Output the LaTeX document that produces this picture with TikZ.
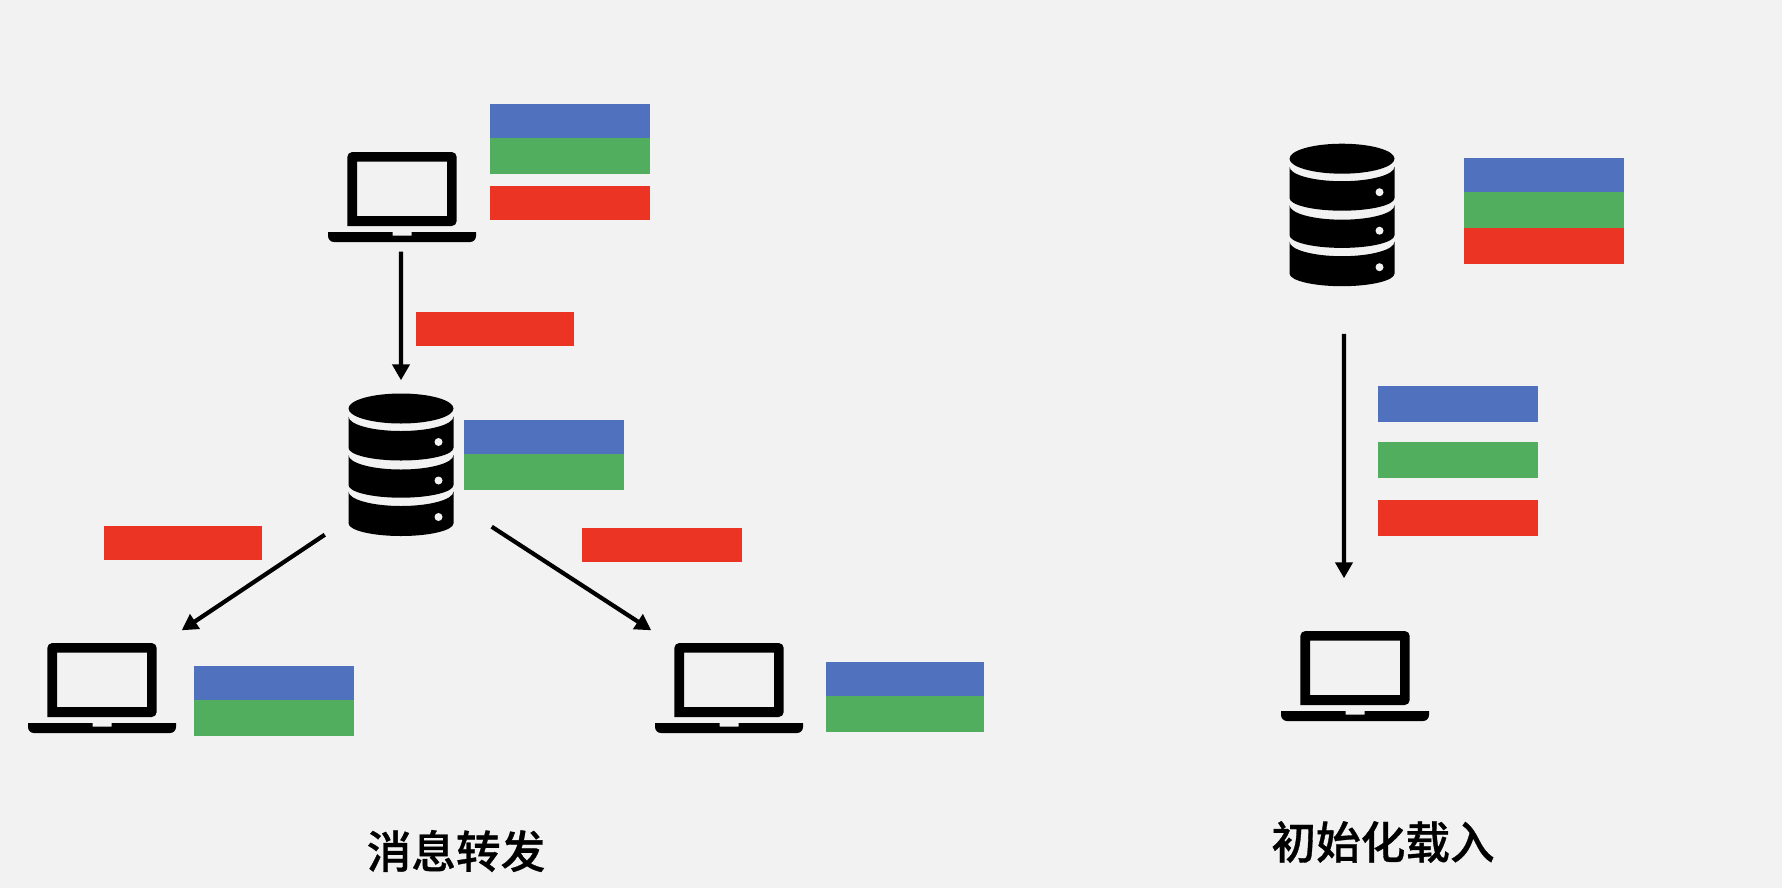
\documentclass[tikz,border=0pt]{standalone}
\usepackage{fontspec}
\newfontfamily\cjk[UprightFont=* Medium, FakeBold=0.7]{Noto Sans CJK SC}
\usetikzlibrary{arrows.meta}
\definecolor{pagebg}{HTML}{F2F2F2}
\definecolor{barblue}{HTML}{5071BD}
\definecolor{bargreen}{HTML}{51AE5E}
\definecolor{barred}{HTML}{EC3424}

\begin{document}
\begin{tikzpicture}[
    laptop/.style={rectangle, minimum width=1.48cm, minimum height=0.9cm, inner sep=0pt,
        path picture={
            \fill[even odd rule, rounded corners=0.05cm] (-0.547,-0.29) -- (-0.547,0.45) -- (0.547,0.45) -- (0.547,-0.29) [sharp corners] -- cycle
                (-0.45,-0.19) [sharp corners] rectangle (0.45,0.353);
            \fill (-0.74,-0.35) -- (-0.095,-0.35) -- (-0.095,-0.385) -- (0.095,-0.385) -- (0.095,-0.35) -- (0.74,-0.35)
                [rounded corners=0.06cm] -- (0.74,-0.45) -- (-0.74,-0.45) [sharp corners] -- cycle;
        }},
    database/.style={rectangle, minimum width=1.05cm, minimum height=1.43cm, inner sep=0pt,
        path picture={
            \fill (0,0.56) ellipse [x radius=0.525, y radius=0.15];
            \foreach \ytop/\ybot in {0.48/0.167, 0.095/-0.205, -0.27/-0.588} {
                \fill (-0.525,\ytop) -- (-0.525,\ybot)
                    arc [start angle=180, end angle=360, x radius=0.525, y radius=0.127]
                    -- (0.525,\ytop)
                    arc [start angle=0, end angle=-180, x radius=0.525, y radius=0.145] -- cycle;
                \fill[pagebg] (0.375,\ytop-0.255) circle (0.04);
            }
        }},
    bar/.style={rectangle, minimum width=1.6cm, inner sep=0pt},
    bluebar/.style={bar, fill=barblue, minimum height=0.34cm},
    greenbar/.style={bar, fill=bargreen, minimum height=0.36cm},
    redbar/.style={bar, fill=barred, minimum height=0.34cm},
    flow/.style={-{Triangle[length=0.16cm, width=0.17cm]}, line width=0.042cm},
    caption/.style={font=\cjk\fontsize{12.7}{15}\selectfont, inner sep=0pt}
]
    \useasboundingbox[fill=pagebg] (0,0) rectangle (17.82,8.88);

    % forwarding side
    \node[laptop] (la) at (4.02,6.91) {};
    \node[database] (da) at (4.01,4.235) {};
    \node[laptop] (lb) at (1.02,2.00) {};
    \node[laptop] (lc) at (7.29,2.00) {};
    \node[bluebar] (a1) at (5.70,7.67) {};
    \node[greenbar] (a2) at (5.70,7.32) {};
    \node[redbar] (a3) at (5.70,6.85) {};
    \node[redbar, minimum width=1.58cm] (m1) at (4.95,5.59) {};
    \node[bluebar] (b1) at (5.44,4.51) {};
    \node[greenbar] (b2) at (5.44,4.16) {};
    \node[redbar, minimum width=1.58cm] (m2) at (1.83,3.45) {};
    \node[redbar] (m3) at (6.62,3.43) {};
    \node[bluebar] (c1) at (2.74,2.05) {};
    \node[greenbar] (c2) at (2.74,1.70) {};
    \node[bluebar, minimum width=1.58cm] (d1) at (9.05,2.09) {};
    \node[greenbar, minimum width=1.58cm] (d2) at (9.05,1.74) {};
    \draw[flow] ([xshift=-0.01cm,yshift=-0.09cm]la.south) -- ([yshift=0.12cm]da.north);
    \draw[flow] ([xshift=-0.23cm,yshift=0.02cm]da.south west) -- ([xshift=0.05cm,yshift=0.12cm]lb.north east);
    \draw[flow] ([xshift=0.375cm,yshift=0.10cm]da.south east) -- ([xshift=-0.03cm,yshift=0.12cm]lc.north west);
    \node[caption] (t1) at (4.56,0.37) {消息转发};

    % initial load side
    \node[database] (db) at (13.42,6.733) {};
    \node[laptop] (ld) at (13.55,2.12) {};
    \node[bluebar] (e1) at (15.44,7.13) {};
    \node[greenbar] (e2) at (15.44,6.78) {};
    \node[redbar, minimum height=0.36cm] (e3) at (15.44,6.42) {};
    \node[bluebar, minimum height=0.36cm] (f1) at (14.58,4.84) {};
    \node[greenbar] (f2) at (14.58,4.28) {};
    \node[redbar, minimum height=0.36cm] (f3) at (14.58,3.70) {};
    \draw[flow] ([xshift=0.02cm,yshift=-0.47cm]db.south) -- ([xshift=-0.11cm,yshift=0.52cm]ld.north);
    \node[caption] (t2) at (13.83,0.46) {初始化载入};
\end{tikzpicture}
\end{document}
